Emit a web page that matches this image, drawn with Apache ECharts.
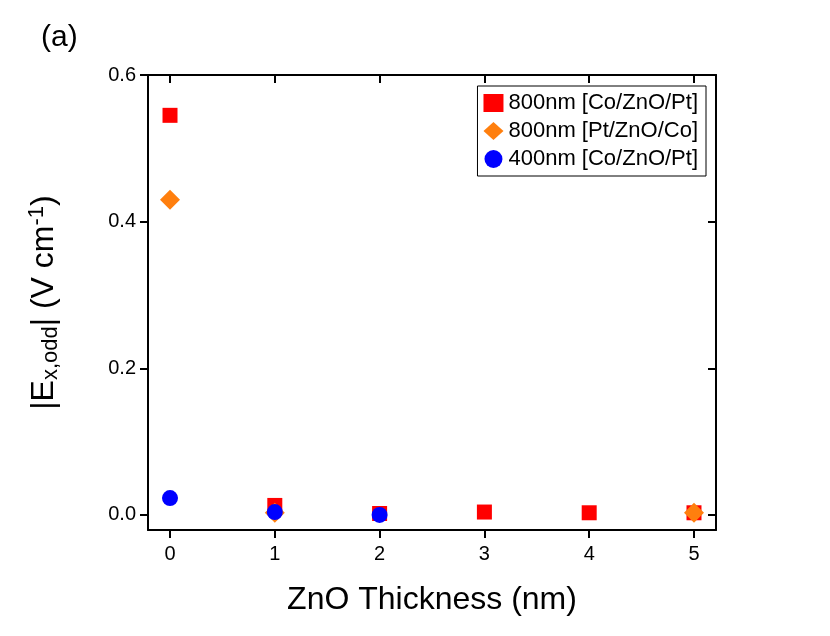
<!DOCTYPE html>
<html><head><meta charset="utf-8">
<script src="https://cdn.jsdelivr.net/npm/echarts@6/dist/echarts.min.js"></script>
<style>body{margin:0;background:#fff}#c{width:830px;height:636px}</style>
</head><body><div id="c"></div>
<script>
var seriesNames = ['800nm [Co/ZnO/Pt]', '800nm [Pt/ZnO/Co]', '400nm [Co/ZnO/Pt]'];
var coPt800 = [[0, 0.545], [1, 0.013], [2, 0.002], [3, 0.004], [4, 0.003], [5, 0.003]];
var ptCo800 = [[0, 0.43], [1, 0.003], [5, 0.003]];
var coPt400 = [[0, 0.023], [1, 0.004], [2, 0.0]];
var xTicks = [0, 1, 2, 3, 4, 5];
var yTicks = [0, 0.2, 0.4, 0.6];

var myChart = echarts.init(document.getElementById('c'));
var font = 'Arial, "Liberation Sans", sans-serif';
var line = {onZero: false, lineStyle: {color: '#000', width: 2}};
var option = {
    animation: false,
    title: {text: '(a)', left: 36, top: 18, textStyle: {fontFamily: font, fontSize: 30, fontWeight: 'normal', color: '#000'}},
    grid: {left: 148, right: 114, top: 75, bottom: 106},
    legend: {
        data: seriesNames, orient: 'vertical', right: 124, top: 86,
        borderColor: '#000', borderWidth: 1, padding: [6, 8, 6, 6], itemGap: 6,
        itemWidth: 20, itemHeight: 18,
        textStyle: {fontFamily: font, fontSize: 22, color: '#000'}
    },
    xAxis: [{
        type: 'value', min: -0.21, max: 5.21,
        name: 'ZnO Thickness (nm)', nameLocation: 'middle', nameGap: 54,
        nameTextStyle: {fontFamily: font, fontSize: 32, color: '#000'},
        axisLine: line, splitLine: {show: false},
        axisTick: {customValues: xTicks, length: 8, lineStyle: {width: 2, color: '#000'}},
        axisLabel: {customValues: xTicks, fontFamily: font, fontSize: 20, color: '#000', margin: 14}
    }, {
        type: 'value', min: -0.21, max: 5.21, position: 'top',
        axisLine: line, splitLine: {show: false},
        axisTick: {inside: true, customValues: xTicks, length: 8, lineStyle: {width: 2, color: '#000'}},
        axisLabel: {show: false}
    }],
    yAxis: [{
        type: 'value', min: -0.0205, max: 0.6,
        name: '{n||E}{s|x,odd}{n|| (V cm}{p|-1}{n|)}', nameLocation: 'middle', nameGap: 86,
        nameTextStyle: {
            rich: {
                n: {fontFamily: font, fontSize: 32, color: '#000'},
                s: {fontFamily: font, fontSize: 22, color: '#000', verticalAlign: 'bottom', padding: [14, 0, 0, 0]},
                p: {fontFamily: font, fontSize: 22, color: '#000', verticalAlign: 'top', padding: [0, 0, 14, 0]}
            }
        },
        axisLine: line, splitLine: {show: false},
        axisTick: {customValues: yTicks, length: 8, lineStyle: {width: 2, color: '#000'}},
        axisLabel: {customValues: yTicks, formatter: function (v) { return v.toFixed(1); }, fontFamily: font, fontSize: 20, color: '#000', margin: 12}
    }, {
        type: 'value', min: -0.0205, max: 0.6, position: 'right',
        axisLine: line, splitLine: {show: false},
        axisTick: {inside: true, customValues: yTicks, length: 8, lineStyle: {width: 2, color: '#000'}},
        axisLabel: {show: false}
    }],
    series: [
        {name: seriesNames[0], type: 'scatter', symbol: 'rect', symbolSize: 15, itemStyle: {color: '#ff0000', opacity: 1}, data: coPt800},
        {name: seriesNames[1], type: 'scatter', symbol: 'diamond', symbolSize: 20, itemStyle: {color: '#ff7f0e', opacity: 1}, data: ptCo800},
        {name: seriesNames[2], type: 'scatter', symbol: 'circle', symbolSize: 16, itemStyle: {color: '#0000ff', opacity: 1}, data: coPt400}
    ]
};
option && myChart.setOption(option);
</script></body></html>
